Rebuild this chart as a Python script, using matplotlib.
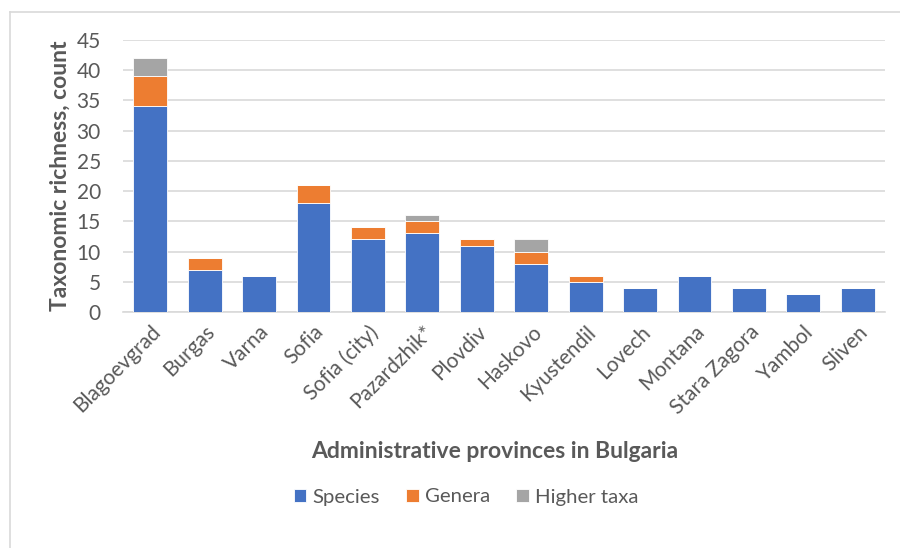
import matplotlib.pyplot as plt
import numpy as np
from matplotlib.lines import Line2D

provinces = ["Blagoevgrad", "Burgas", "Varna", "Sofia", "Sofia (city)", "Pazardzhik*",
             "Plovdiv", "Haskovo", "Kyustendil", "Lovech", "Montana", "Stara Zagora",
             "Yambol", "Sliven"]
species = [34, 7, 6, 18, 12, 13, 11, 8, 5, 4, 6, 4, 3, 4]
genera = [5, 2, 0, 3, 2, 2, 1, 2, 1, 0, 0, 0, 0, 0]
higher_taxa = [3, 0, 0, 0, 0, 1, 0, 2, 0, 0, 0, 0, 0, 0]

plt.rcParams['font.family'] = ['Lato', 'DejaVu Sans']
grey = '#595959'

fig = plt.figure(figsize=(9, 5.48), dpi=100)
ax = fig.add_axes([123 / 900, 1 - 312 / 548, 762 / 900, 272 / 548])

x = np.arange(len(provinces))
sp = np.array(species)
ge = np.array(genera)
hi = np.array(higher_taxa)
w = 0.62
ax.bar(x, sp, w, color='#4472C4', edgecolor='white', linewidth=0.6, zorder=3, label='Species')
ax.bar(x, ge, w, bottom=sp, color='#ED7D31', edgecolor='white', linewidth=0.6, zorder=3, label='Genera')
ax.bar(x, hi, w, bottom=sp + ge, color='#A5A5A5', edgecolor='white', linewidth=0.6, zorder=3, label='Higher taxa')

ax.set_xlim(-0.5, len(provinces) - 0.5)
ax.set_ylim(0, 45)
ax.set_yticks(range(0, 46, 5))
ax.grid(axis='y', color='#D9D9D9', linewidth=1.2, zorder=0)
for s in ['top', 'right', 'left']:
    ax.spines[s].set_visible(False)
ax.spines['bottom'].set_color('#D9D9D9')
ax.spines['bottom'].set_linewidth(1.2)
ax.tick_params(axis='both', length=0, labelsize=15, colors=grey)
ax.tick_params(axis='y', pad=16)
ax.tick_params(axis='x', pad=7)
ax.set_xticks(x)
ax.set_xticklabels(provinces, rotation=45, ha='right', rotation_mode='anchor')

ax.set_ylabel('Taxonomic richness, count', fontsize=16.5, fontweight='bold', color=grey, labelpad=4)
fig.text(495 / 900, 1 - 451 / 548, 'Administrative provinces in Bulgaria', fontsize=16.5,
         fontweight='bold', color=grey, ha='center', va='center')

handles, labels = ax.get_legend_handles_labels()
fig.legend(handles, labels, loc='center', bbox_to_anchor=(0.518, 1 - 497 / 548), ncol=3,
           frameon=False, fontsize=14.7, labelcolor=grey, handlelength=0.6,
           handleheight=0.6, handletextpad=0.3, columnspacing=1.3)

# chart border
fig.add_artist(Line2D([9.5 / 900, 9.5 / 900], [0, 1 - 12 / 548], color='#D9D9D9', linewidth=1.2))
fig.add_artist(Line2D([9.5 / 900, 1], [1 - 12 / 548, 1 - 12 / 548], color='#D9D9D9', linewidth=1.2))

fig.savefig('out.png', dpi=100, facecolor='white')
